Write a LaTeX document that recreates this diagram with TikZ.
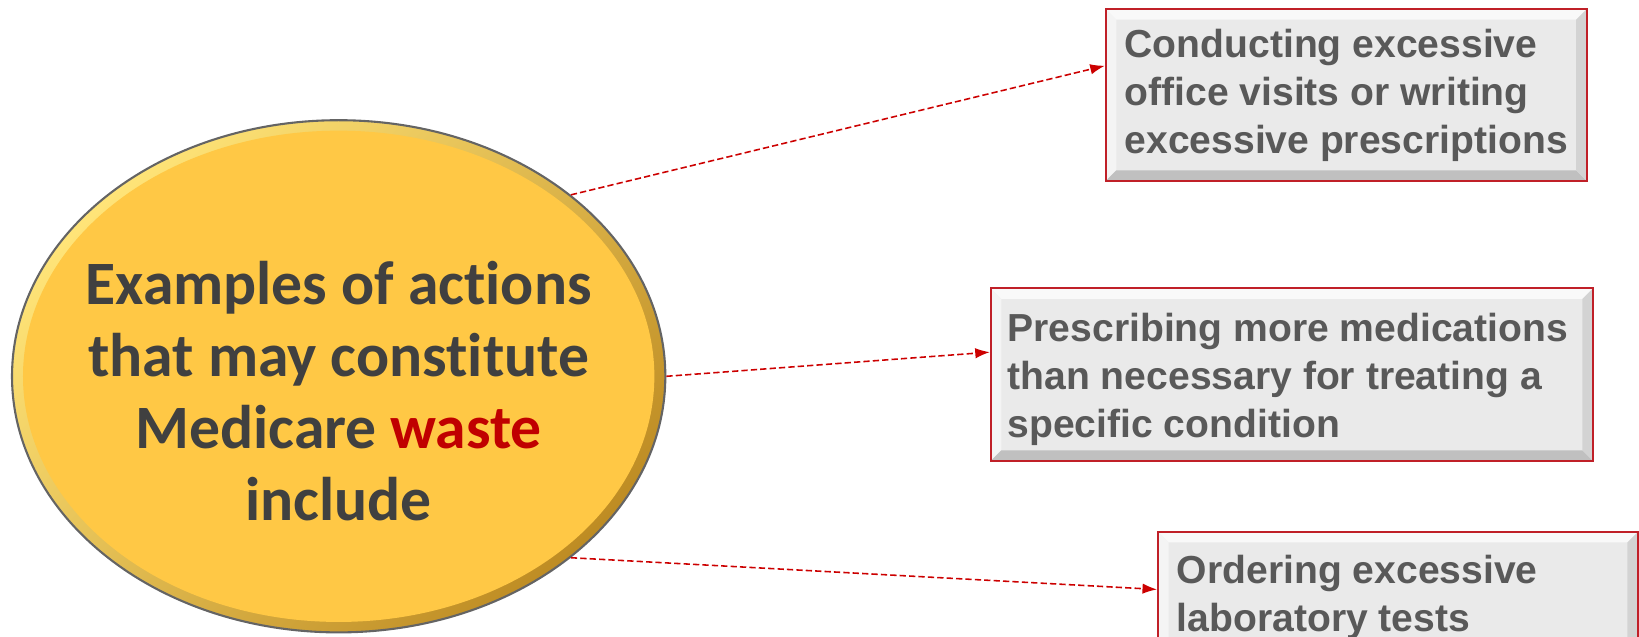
\documentclass[tikz,border=0pt]{standalone}
\usepackage{fontspec}
\setsansfont{Liberation Sans}
\newfontfamily\calibri[Ligatures = NoCommon]{Carlito}
\usetikzlibrary{shapes.geometric,arrows.meta}
\definecolor{goldbase}{RGB}{255,200,69}
\definecolor{goldlight}{RGB}{255,228,120}
\definecolor{golddark}{RGB}{190,140,35}
\definecolor{rimgray}{RGB}{100,100,100}
\definecolor{inktext}{RGB}{64,64,64}
\definecolor{wastered}{RGB}{192,0,0}
\definecolor{boxtext}{RGB}{89,89,89}
\definecolor{boxface}{RGB}{234,234,234}
\definecolor{boxred}{RGB}{192,32,40}
\definecolor{linkred}{RGB}{204,0,0}
\tikzset{
	bulb/.style = {ellipse, draw = rimgray, line width = 1pt, inner sep = 0pt, top color = goldlight, bottom color = golddark, shading angle = 45, minimum width = 312.5pt, minimum height = 245pt},
	itembox/.style = {draw = boxred, line width = 0.9pt, fill = boxface, inner xsep = 9pt, inner ysep = 0pt, minimum height = 82pt, anchor = north west, align = flush left, text width = #1, text = boxtext, font = \sffamily\bfseries\fontsize{18.7}{23}\selectfont,
		path picture = {
			\path (path picture bounding box.north west) coordinate (p1) (path picture bounding box.north east) coordinate (p2) (path picture bounding box.south east) coordinate (p3) (path picture bounding box.south west) coordinate (p4);
			\fill[white!70!boxface] (p1) -- (p2) -- ([shift = {(-5pt,-5pt)}]p2) -- ([shift = {(5pt,-5pt)}]p1) -- cycle;
			\fill[white!45!boxface] (p1) -- (p4) -- ([shift = {(5pt,5pt)}]p4) -- ([shift = {(5pt,-5pt)}]p1) -- cycle;
			\fill[black!18!boxface] (p4) -- (p3) -- ([shift = {(-5pt,5pt)}]p3) -- ([shift = {(5pt,5pt)}]p4) -- cycle;
			\fill[black!10!boxface] (p2) -- (p3) -- ([shift = {(-5pt,5pt)}]p3) -- ([shift = {(-5pt,-5pt)}]p2) -- cycle;
		}},
	link/.style = {draw = linkred, line width = 0.75pt, dash pattern = on 3pt off 1.5pt, -{Latex[length = 7pt, width = 5pt]}}
}
\begin{document}
\begin{tikzpicture}[x = 0.5pt, y = -0.5pt]
	\useasboundingbox (0,0) rectangle (1568,608.5);

	\node (w)[bulb]at (324,360) {};
	\fill[goldbase] (w.center) ellipse [x radius = 151pt, y radius = 117.5pt];
	\node (t)[font = \calibri\bfseries\fontsize{29.5}{34.5}\selectfont, text = inktext, align = center]at (324,374) {Examples of actions\\that may constitute\\Medicare \textcolor{wastered}{waste}\\include};

	\node (a)[itembox = 212pt]at (1057,8) {Conducting excessive\\office visits or writing\\excessive prescriptions};
	\node (b)[itembox = 272pt, inner xsep = 8pt, minimum height = 82.5pt, execute at begin node = {\rule{0pt}{18.5pt}}]at (947,275) {Prescribing more medications\\than necessary for treating a\\specific condition};
	\node (c)[itembox = 211.5pt]at (1107,508) {Ordering excessive\\laboratory tests\\\mbox{}};

	\draw[link] (w.38) -- ([yshift = 14pt]a.west);
	\draw[link] (w.east) -- ([yshift = 10.75pt]b.west);
	\draw[link] (w.-38) -- ([yshift = 13.5pt]c.west);
\end{tikzpicture}
\end{document}
